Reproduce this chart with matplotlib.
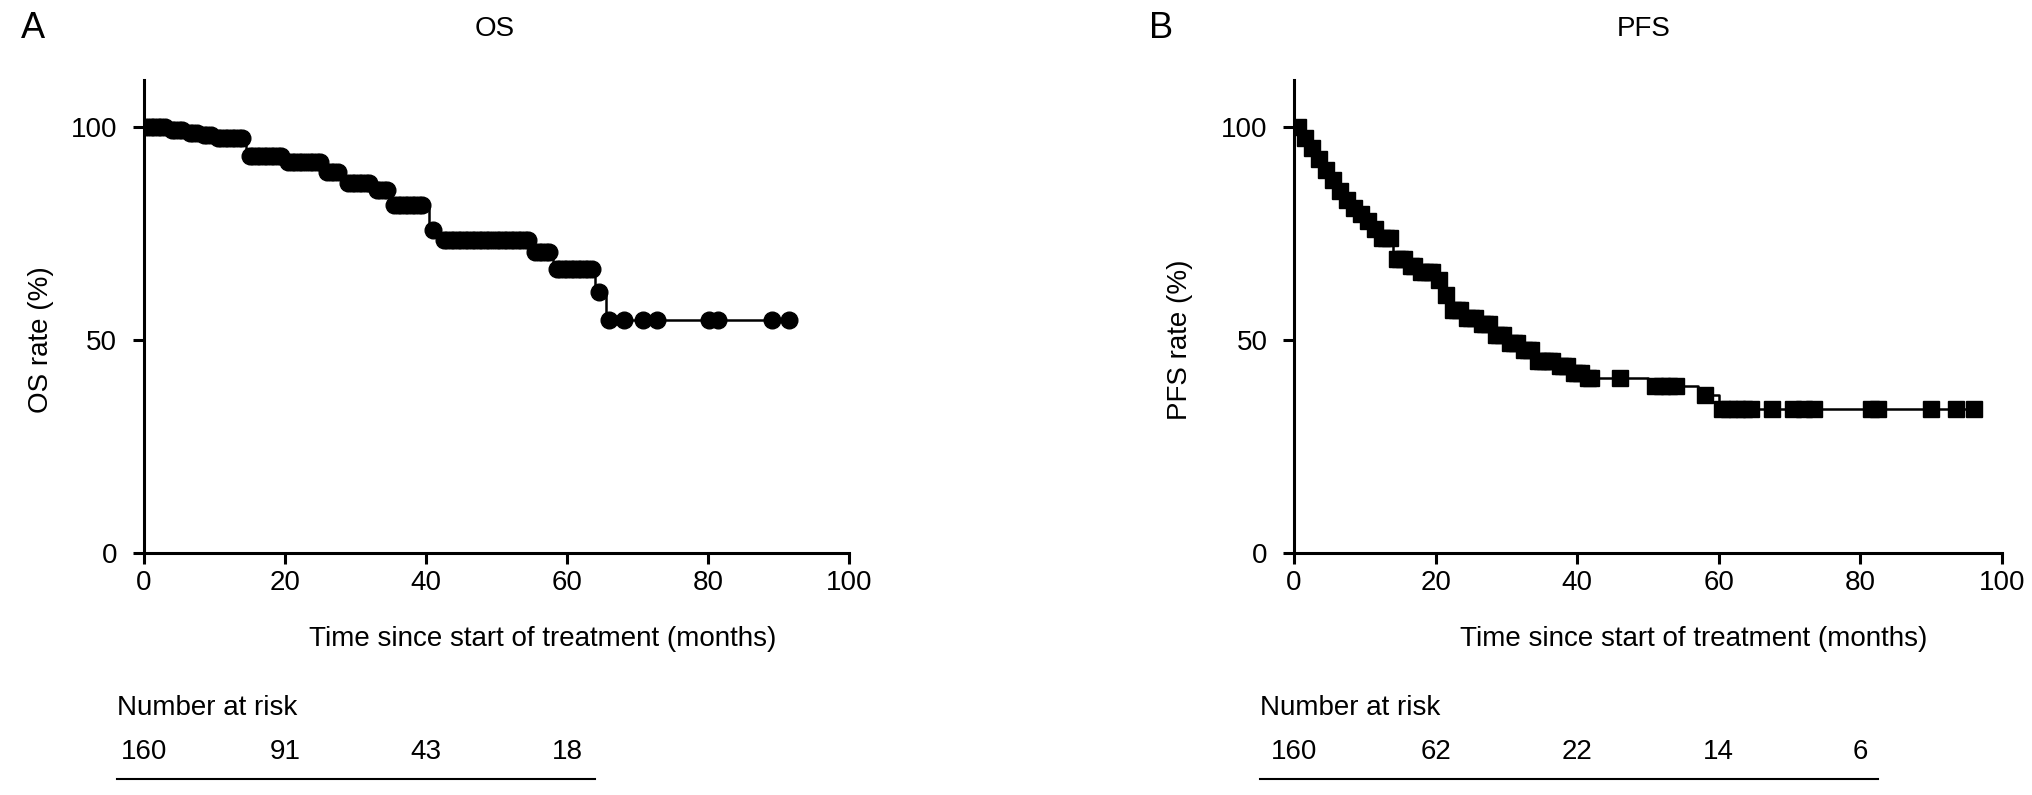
import matplotlib
matplotlib.use("Agg")
import matplotlib.pyplot as plt
import matplotlib.transforms as mtransforms
from matplotlib.lines import Line2D

plt.rcParams['font.family'] = ['Liberation Sans', 'DejaVu Sans']

# OS: step times and survival (%) after each step
os_t = [0, 3.5, 6, 8, 10, 14.5, 20, 25.5, 28.5, 32.5, 35, 40.5, 42, 55, 58, 64, 65.5]
os_s = [100, 99.4, 98.7, 98.1, 97.4, 93.3, 91.8, 89.4, 86.8, 85.2, 81.7, 75.8, 73.5, 70.7, 66.6, 61.2, 54.6]
os_end = 92
# censored times (circles)
os_cens = [0.5, 1, 1.5, 2, 2.5, 3, 4, 4.5, 5, 5.5, 6.5, 7, 7.5, 8.5, 9, 9.5, 10.5, 11,
           11.5, 12, 12.5, 13, 13.5, 14, 15, 15.5, 16, 16.5, 17, 17.5, 18, 18.5, 19, 19.5,
           20.5, 21, 21.5, 22, 22.5, 23, 23.5, 24, 24.5, 25, 26, 26.5, 27, 27.5, 29, 29.5,
           30, 30.5, 31, 31.5, 32, 33, 33.5, 34, 34.5, 35.5, 36, 36.5, 37, 37.5, 38, 38.5,
           39, 39.5, 41, 42.5, 43, 43.5, 44, 44.5, 45, 45.5, 46, 46.5, 47, 47.5, 48, 48.5,
           49, 49.5, 50, 50.5, 51, 51.5, 52, 52.5, 53, 53.5, 54, 54.5, 55.5, 56, 56.5, 57,
           57.5, 58.5, 59, 59.5, 60, 60.5, 61, 61.5, 62, 62.5, 63, 63.5, 64.5, 66, 68, 70.8,
           72.8, 80.1, 81.4, 89.1, 91.5]

# PFS
pfs_t = [0, 1, 2, 3, 4, 5, 6, 7, 8, 9, 10, 11, 12, 14, 16, 17.5, 20, 21, 22, 24, 26,
         28, 30, 32, 34, 37, 39, 41, 50, 57, 60]
pfs_s = [100, 97.5, 95, 92.5, 90, 87.5, 85, 83, 81, 79.5, 78, 76, 74, 69, 67.5, 66,
         64, 60.5, 57, 55.3, 53.7, 51.3, 49.2, 47.7, 45.2, 44, 42.2, 41, 39.2, 37, 33.7]
pfs_end = 96
pfs_cens = [0.5, 1.5, 2.5, 3.5, 4.5, 5.5, 6.5, 7.5, 8.5, 9.5, 10.5, 11.5, 12.5, 13, 13.5,
            14.5, 15, 15.5, 16.5, 17, 18, 18.5, 19, 19.5, 20.5, 21.5, 22.5, 23, 23.5,
            24.5, 25, 25.5, 26.5, 27, 27.5, 28.5, 29, 29.5, 30.5, 31, 31.5, 32.5, 33,
            33.5, 34.5, 35, 35.5, 36, 36.5, 37.5, 38, 38.5, 39.5, 40, 40.5, 41.5, 42,
            46, 51, 52, 53, 54, 58, 60.5, 61.5, 62.5, 63.5, 64.5, 67.5, 70.5, 72, 73.5,
            81.5, 82.5, 90, 93.5, 96]

os_risk_t = [0, 20, 40, 60]
os_risk = [160, 91, 43, 18]
pfs_risk_t = [0, 20, 40, 60, 80]
pfs_risk = [160, 62, 22, 14, 6]


def surv_at(t, times, surv):
    val = surv[0]
    for ti, si in zip(times, surv):
        if t >= ti:
            val = si
    return val


def km_panel(ax, times, surv, t_end, cens, marker, ms, ylabel, ylab_x):
    xs = list(times) + [t_end]
    ys = list(surv) + [surv[-1]]
    ax.step(xs, ys, where='post', color='black', lw=1.8, zorder=2)
    cy = [surv_at(c, times, surv) for c in cens]
    ax.plot(cens, cy, ls='none', marker=marker, ms=ms, color='black', zorder=3)
    ax.set_xlim(0, 100)
    ax.set_ylim(0, 111)
    ax.set_xticks([0, 20, 40, 60, 80, 100])
    ax.set_yticks([0, 50, 100])
    for s in ['top', 'right']:
        ax.spines[s].set_visible(False)
    for s in ['left', 'bottom']:
        ax.spines[s].set_linewidth(2.2)
    ax.tick_params(width=2.2, length=8, labelsize=20)
    ax.tick_params(axis='x', pad=4)
    ax.tick_params(axis='y', pad=11)
    ax.set_xlabel("Time since start of treatment (months)", fontsize=20)
    ax.xaxis.set_label_coords(0.565, -0.155)
    ax.set_ylabel(ylabel, fontsize=20)
    ax.yaxis.set_label_coords(ylab_x, 0.452)


fig = plt.figure(figsize=(20.32, 7.95), dpi=100)
ax1 = fig.add_axes([0.0707, 0.3044, 0.3473, 0.5946])
ax2 = fig.add_axes([0.6368, 0.3044, 0.3485, 0.5946])

km_panel(ax1, os_t, os_s, os_end, os_cens, 'o', 12, "OS rate (%)", -0.127)
km_panel(ax2, pfs_t, pfs_s, pfs_end, pfs_cens, 's', 11, "PFS rate (%)", -0.143)

fig.text(0.0105, 0.964, "A", fontsize=26, va='center', ha='left')
fig.text(0.5655, 0.964, "B", fontsize=26, va='center', ha='left')
fig.text(0.2435, 0.964, "OS", fontsize=20, va='center', ha='center')
fig.text(0.809, 0.964, "PFS", fontsize=20, va='center', ha='center')

# number at risk tables
for ax, rt, rn, x0, x1 in [(ax1, os_risk_t, os_risk, 0.0574, 0.293),
                           (ax2, pfs_risk_t, pfs_risk, 0.62, 0.924)]:
    fig.text(x0, 0.1095, "Number at risk", fontsize=20, va='center', ha='left')
    tr = mtransforms.blended_transform_factory(ax.transData, fig.transFigure)
    for t, n in zip(rt, rn):
        fig.text(t, 0.054, str(n), fontsize=20, va='center', ha='center', transform=tr)
    fig.add_artist(Line2D([x0, x1], [0.02, 0.02], color='black', lw=1.5,
                          transform=fig.transFigure))

fig.savefig("out.png", dpi=100)
